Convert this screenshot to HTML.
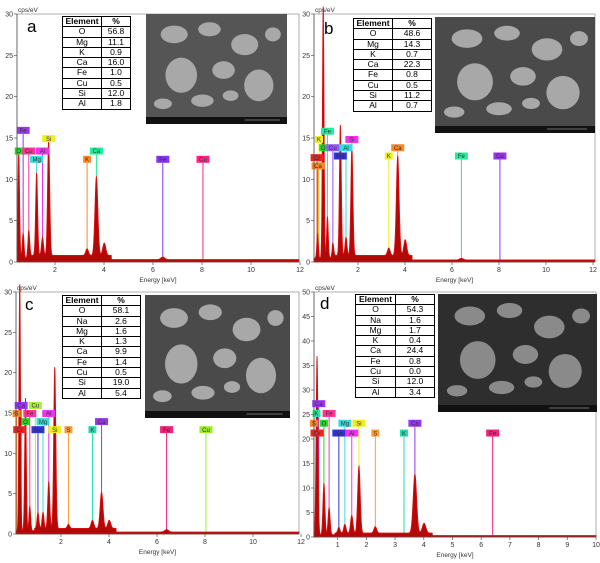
<!DOCTYPE html>
<html><head><meta charset="utf-8">
<style>
body{margin:0;background:#fff;width:600px;height:563px;overflow:hidden;position:relative;font-family:"Liberation Sans",sans-serif}
svg{position:absolute;left:0;top:0}
table.t{position:absolute;border-collapse:collapse;background:#fff;font-size:8.5px;table-layout:fixed}
table.t td{border:1px solid #000;text-align:center;padding:0;line-height:9.3px;height:9.3px}
table.t tr:first-child td{font-weight:bold}
.lbl{position:absolute;font-size:17px;color:#000}
</style></head><body>
<svg id="fig" width="600" height="563" viewBox="0 0 600 563"></svg>

<div class="lbl" style="left:27px;top:17px">a</div>
<div class="lbl" style="left:324px;top:19px">b</div>
<div class="lbl" style="left:25px;top:295px">c</div>
<div class="lbl" style="left:320px;top:294px">d</div>

<table class="t" style="left:62px;top:16px;width:68px">
<col style="width:39px"><col style="width:29px">
<tr><td>Element</td><td>%</td></tr><tr><td>O</td><td>56.8</td></tr><tr><td>Mg</td><td>11.1</td></tr><tr><td>K</td><td>0.9</td></tr><tr><td>Ca</td><td>16.0</td></tr><tr><td>Fe</td><td>1.0</td></tr><tr><td>Cu</td><td>0.5</td></tr><tr><td>Si</td><td>12.0</td></tr><tr><td>Al</td><td>1.8</td></tr></table>

<table class="t" style="left:353px;top:18px;width:78px">
<col style="width:39px"><col style="width:39px">
<tr><td>Element</td><td>%</td></tr><tr><td>O</td><td>48.6</td></tr><tr><td>Mg</td><td>14.3</td></tr><tr><td>K</td><td>0.7</td></tr><tr><td>Ca</td><td>22.3</td></tr><tr><td>Fe</td><td>0.8</td></tr><tr><td>Cu</td><td>0.5</td></tr><tr><td>Si</td><td>11.2</td></tr><tr><td>Al</td><td>0.7</td></tr></table>

<table class="t" style="left:62px;top:295px;width:78px">
<col style="width:39px"><col style="width:39px">
<tr><td>Element</td><td>%</td></tr><tr><td>O</td><td>58.1</td></tr><tr><td>Na</td><td>2.6</td></tr><tr><td>Mg</td><td>1.6</td></tr><tr><td>K</td><td>1.3</td></tr><tr><td>Ca</td><td>9.9</td></tr><tr><td>Fe</td><td>1.4</td></tr><tr><td>Cu</td><td>0.5</td></tr><tr><td>Si</td><td>19.0</td></tr><tr><td>Al</td><td>5.4</td></tr></table>

<table class="t" style="left:355px;top:294px;width:79px">
<col style="width:40px"><col style="width:39px">
<tr><td>Element</td><td>%</td></tr><tr><td>O</td><td>54.3</td></tr><tr><td>Na</td><td>1.6</td></tr><tr><td>Mg</td><td>1.7</td></tr><tr><td>K</td><td>0.4</td></tr><tr><td>Ca</td><td>24.4</td></tr><tr><td>Fe</td><td>0.8</td></tr><tr><td>Cu</td><td>0.0</td></tr><tr><td>Si</td><td>12.0</td></tr><tr><td>Al</td><td>3.4</td></tr></table>

<script>
// ---- data: peak energies (keV) and heights (cps/eV) ----
const peaksA_E=[0.28,0.52,0.70,0.93,1.25,1.49,1.74,3.31,3.69,4.01,6.40];
const peaksA_H=[3,12.8,3,3,10,2.2,14,0.8,9.5,1.5,0.3];
const peaksB_E=[0.28,0.52,0.70,0.93,1.25,1.49,1.74,3.31,3.69,4.01,6.40];
const peaksB_H=[3,31,5,1.5,15.8,2.2,13.2,0.9,12,1.9,0.2];
const peaksC_E=[0.28,0.52,0.70,1.04,1.25,1.49,1.74,2.31,3.31,3.69,4.01,6.40];
const peaksC_H=[31,16.5,3,2,2,5.8,20,0.5,1,4.5,1,0.3];
const peaksD_E=[0.28,0.52,0.70,1.04,1.25,1.49,1.74,2.31,3.69,4.01];
const peaksD_H=[36.5,10.5,5.5,1.2,1.8,3.6,13.7,1.3,12,2];
const bgA=[0.8,0.3], bgB=[0.8,0.25], bgC=[0.7,0.25], bgD=[0.8,0.3];
// markers: energy, label height, text, colour
const markA_E=[0.52,0.70,0.93,1.25,1.49,1.74,3.31,3.69,6.40,8.04];
const markA_Y=[13,15.5,13,12,13,14.5,12,13,12,12];
const markA_T=["O","Fe","Cu","Mg","Al","Si","K","Ca","Fe","Cu"];
const markA_C=["#22dd22","#9933ff","#ff3399","#33dddd","#ee33ee","#eeee22","#ff8822","#22ee99","#8833ee","#ff2288"];
const markB_E=[0.30,0.26,0.34,0.52,0.70,0.93,1.25,1.49,1.74,3.31,3.69,6.40,8.04];
const markB_Y=[11.2,12.2,14.4,13.4,15.4,13.4,12.4,13.4,14.4,12.4,13.4,12.4,12.4];
const markB_T=["Ca","Cr","K","O","Fe","Cu","Mg","Al","Si","K","Ca","Fe","Cu"];
const markB_C=["#ff8822","#ee2222","#eeee22","#22dd22","#22ee99","#9955ff","#3333dd","#33dddd","#ee33ee","#eeee22","#ff8822","#22ee99","#9933ee"];
const markC_E=[0.28,0.15,0.34,0.52,0.70,0.93,1.04,1.25,1.49,1.74,2.31,3.31,3.69,6.40,8.04];
const markC_Y=[12.5,14.5,15.5,13.5,14.5,15.5,12.5,13.5,14.5,12.5,12.5,12.5,13.5,12.5,12.5];
const markC_T=["Cr","S","Ca","O","Fe","Cu","Na","Mg","Al","Si","S","K","Ca","Fe","Cu"];
const markC_C=["#ee2222","#ff8822","#9933ff","#22dd22","#ff3399","#aaee33","#3333dd","#33dddd","#ee33ee","#eeee22","#ff9933","#22ddaa","#9933ee","#ee2277","#99ee22"];
const markD_E=[0.28,0.17,0.26,0.34,0.52,0.70,1.04,1.25,1.49,1.74,2.31,3.31,3.69,6.40];
const markD_Y=[20.5,22.5,24.5,26.5,22.5,24.5,20.5,22.5,20.5,22.5,20.5,20.5,22.5,20.5];
const markD_T=["Cr","S","K","Ca","O","Fe","Na","Mg","Al","Si","S","K","Ca","Fe"];
const markD_C=["#ee2222","#ff8822","#22ee99","#9933ff","#22dd22","#ff3399","#3333dd","#33dddd","#ee33ee","#eeee22","#ff9933","#22ddaa","#9933ee","#ee2277"];
const ticksXA=[2,4,6,8,10,12], ticksXD=[1,2,3,4,5,6,7,8,9,10];
const ticksY30=[0,5,10,15,20,25,30], ticksY50=[0,5,10,15,20,25,30,35,40,45,50];

const NS="http://www.w3.org/2000/svg";
const svg=document.getElementById('fig');
function mk(tag,attrs,parent){const e=document.createElementNS(NS,tag);for(const k in attrs)e.setAttribute(k,attrs[k]);(parent||svg).appendChild(e);return e;}

const panels=[
 {id:"a",x0:17,x1:299,y0:262,y1:14,e0:6,kpx:24.5,ymax:30,pe:peaksA_E,ph:peaksA_H,bg:bgA,me:markA_E,my:markA_Y,mt:markA_T,mc:markA_C,tx:ticksXA,ty:ticksY30},
 {id:"b",x0:314,x1:595,y0:262,y1:14,e0:311,kpx:23.5,ymax:30,pe:peaksB_E,ph:peaksB_H,bg:bgB,me:markB_E,my:markB_Y,mt:markB_T,mc:markB_C,tx:ticksXA,ty:ticksY30},
 {id:"c",x0:16,x1:299,y0:534,y1:292,e0:13,kpx:24,ymax:30,pe:peaksC_E,ph:peaksC_H,bg:bgC,me:markC_E,my:markC_Y,mt:markC_T,mc:markC_C,tx:ticksXA,ty:ticksY30},
 {id:"d",x0:314,x1:596,y0:537,y1:292,e0:309,kpx:28.7,ymax:50,pe:peaksD_E,ph:peaksD_H,bg:bgD,me:markD_E,my:markD_Y,mt:markD_T,mc:markD_C,tx:ticksXD,ty:ticksY50}
];

panels.forEach(p=>{
  const g=mk('g',{});
  
  
  const X=e=>p.e0+e*p.kpx;
  const Y=v=>p.y0-(Math.min(v,p.ymax*1.03))*(p.y0-p.y1)/p.ymax;
  const eStart=(p.x0-p.e0)/p.kpx, eEnd=(p.x1-p.e0)/p.kpx;
  const fr=mk('path',{d:`M${p.x0},${p.y0}V${p.y1}H${p.x1}V${p.y0}`,fill:'none',stroke:'#999','stroke-width':0.8},g);
  
  
  let pts=[`${p.x0},${p.y0}`];
  for(let e=eStart;e<=eEnd;e+=0.008){
    let v=(e<4.3?p.bg[0]:p.bg[1])*(e<0.9?0.6:1);
    for(let i=0;i<p.pe.length;i++){const s=0.03+0.008*p.pe[i];v+=p.ph[i]*Math.exp(-Math.pow(e-p.pe[i],2)/(2*s*s));}
    pts.push(`${X(e).toFixed(2)},${Y(v).toFixed(2)}`);
  }
  pts.push(`${p.x1},${p.y0}`);
  p.me.forEach((e,i)=>{
    const ln=mk('line',{x1:X(e),x2:X(e),y1:p.y0,y2:Y(p.my[i]),stroke:p.mc[i],'stroke-width':1},g);
    
    
  });
  const sp=mk('polygon',{points:pts.join(' '),fill:'#b40808',stroke:'#dd1010','stroke-width':0.8},g);
  
  
  p.me.forEach((e,i)=>{
    const w=p.mt[i].length*5+3;
    const r=mk('rect',{x:X(e)-w/2,y:Y(p.my[i])-7,width:w,height:7,fill:p.mc[i]},g);
    
    
    const t=mk('text',{x:X(e),y:Y(p.my[i])-1.3,'font-size':6,'text-anchor':'middle',fill:'#333'},g);
    t.textContent=p.mt[i];
    
    
  });
  mk('line',{x1:p.x0,x2:p.x1,y1:p.y0,y2:p.y0,stroke:'#555','stroke-width':0.8},g);
  mk('line',{x1:p.x0,x2:p.x0,y1:p.y0,y2:p.y1,stroke:'#555','stroke-width':0.8},g);
  p.ty.forEach(v=>{
    const y=Y(v);
    mk('line',{x1:p.x0-3,x2:p.x0,y1:y,y2:y,stroke:'#555','stroke-width':0.7},g);
    const t=mk('text',{x:p.x0-4,y:y+2.5,'font-size':7,'text-anchor':'end',fill:'#333'},g);
    t.textContent=v;
    
    
  });
  p.tx.forEach(v=>{
    const x=X(v);
    mk('line',{x1:x,x2:x,y1:p.y0,y2:p.y0+3,stroke:'#555','stroke-width':0.7},g);
    const t=mk('text',{x:x,y:p.y0+10,'font-size':7,'text-anchor':'middle',fill:'#333'},g);
    t.textContent=v;
    
    
  });
  const yt=mk('text',{x:p.x0+1,y:p.y1-2,'font-size':6.5,fill:'#333'},g);
  yt.textContent='cps/eV';
  
  
  const xt=mk('text',{x:(p.x0+p.x1)/2,y:p.y0+20,'font-size':6.5,'text-anchor':'middle',fill:'#333'},g);
  xt.textContent='Energy [keV]';
  
  
});

const sems=[[146,14,141,110,"#555"],[435,17,160,116,"#4a4a4a"],[145,295,145,123,"#4a4a4a"],[438,294,159,118,"#2e2e2e"]];
const blobs=[[0.2,0.2,0.12,0.1],[0.45,0.15,0.1,0.08],[0.7,0.3,0.12,0.12],[0.25,0.6,0.14,0.2],[0.55,0.55,0.1,0.1],[0.8,0.7,0.13,0.18],[0.4,0.85,0.1,0.07],[0.9,0.2,0.07,0.08],[0.12,0.88,0.08,0.06],[0.6,0.8,0.07,0.06]];
sems.forEach((s,k)=>{
  const g=mk('g',{});
  
  
  mk('rect',{x:s[0],y:s[1],width:s[2],height:s[3],fill:s[4]},g);
  blobs.forEach(b=>mk('ellipse',{cx:s[0]+b[0]*s[2],cy:s[1]+b[1]*(s[3]-8),rx:b[2]*s[2]*0.8,ry:b[3]*s[3]*0.8,fill:k==3?'#8a8a8a':'#a8a8a8'},g));
  mk('rect',{x:s[0],y:s[1]+s[3]-7,width:s[2],height:7,fill:'#111'},g);
  mk('line',{x1:s[0]+s[2]*0.7,x2:s[0]+s[2]*0.95,y1:s[1]+s[3]-4,y2:s[1]+s[3]-4,stroke:'#ccc','stroke-width':0.6},g);
});
</script>
</body></html>
